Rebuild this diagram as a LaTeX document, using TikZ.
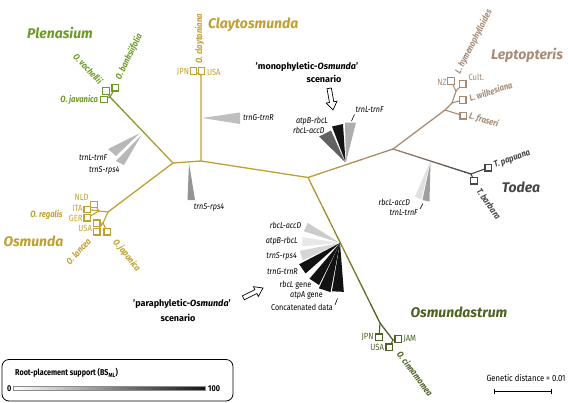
\documentclass[tikz,border=0pt]{standalone}
\usepackage{fontspec}
\setmainfont{Fira Sans}
\newfontfamily\condf{Fira Sans}[FakeStretch=0.85]
\usetikzlibrary{calc}
\definecolor{cgold}{HTML}{BFA030}
\definecolor{cgreen}{HTML}{6E9A28}
\definecolor{colive}{HTML}{4E6226}
\definecolor{ctan}{HTML}{A68B76}
\definecolor{ctodea}{HTML}{464646}
\newcommand{\gradline}[4]{%
  \foreach \gi in {0,...,23}{%
    \pgfmathsetmacro{\gta}{\gi/24}%
    \pgfmathsetmacro{\gtb}{(\gi+1)/24}%
    \pgfmathtruncatemacro{\gpc}{100-(\gi+0.5)*100/24}%
    \draw[treeline,draw=#3!\gpc!#4] ($(#1)!\gta!(#2)$) -- ($(#1)!\gtb!(#2)$);
  }}
\newcommand{\hollowarrow}[3]{%
  \begin{scope}[shift={(#1,#2)},rotate=#3]
    \draw[fill=white,line width=0.7pt,line join=miter] (0,0) -- (-8,-5.5) -- (-8,-2.2) -- (-22,-2.2) -- (-22,2.2) -- (-8,2.2) -- (-8,5.5) -- cycle;
  \end{scope}}
\tikzset{
  treeline/.style={line width=1.3pt,line cap=round,line join=round},
  twig/.style={line width=1.1pt,line cap=round},
  sqbox/.style={draw=#1,fill=white,minimum size=6.5pt,inner sep=0pt,line width=1.2pt},
  cladelab/.style={font=\fontsize{14}{16}\selectfont\bfseries\itshape,inner sep=0pt},
  splab/.style={font=\condf\fontsize{9}{10}\selectfont\bfseries\itshape,inner sep=0.3pt},
  loclab/.style={font=\condf\fontsize{9}{10}\selectfont,inner sep=0.3pt},
  genelab/.style={font=\condf\fontsize{8.5}{9}\selectfont,inner sep=0.3pt},
  scenlab/.style={font=\fontsize{9}{11}\selectfont\bfseries,align=center,inner sep=0pt},
}
\begin{document}
\begin{tikzpicture}[x=1pt,y=-1pt]
\useasboundingbox (0,0) rectangle (568,402);
% ---------- tree coordinates
\coordinate (A) at (173,163);
\coordinate (B) at (201,161);
\coordinate (C) at (308,177.5);
\coordinate (D) at (393,149);
\coordinate (P1) at (110,97);
\coordinate (O1) at (108,212);
\coordinate (O2) at (99,211);
\coordinate (O3) at (103,223);
\coordinate (K1) at (201,75);
\coordinate (L1) at (445,110);
\coordinate (L2) at (452,103);
\coordinate (L3) at (456,91);
\coordinate (T1) at (471,174);
\coordinate (M1) at (380,323);
\coordinate (M2) at (393,340);
% ---------- wedges
\fill[black!25] (202,118) -- (240,112.5) -- (240,124) -- cycle;
\node[genelab,anchor=west] (wg1) at (242.5,118) {\textit{trnG-trnR}};
\fill[black!42] (189,163) -- (187.5,200) -- (195,200) -- cycle;
\node[genelab] (ws1) at (209,207) {\textit{trnS-rps4}};
\fill[black!28] (140,133) -- (108,149) -- (116,156) -- cycle;
\fill[black!28] (141.5,135) -- (116,161) -- (124,165) -- cycle;
\node[genelab,anchor=east] (wl1) at (108,157.5) {\textit{trnL-trnF}};
\node[genelab,anchor=east] (wl2) at (120,170) {\textit{trnS-rps4}};
% monophyletic
\fill[black!62] (345,162) -- (319,136.5) -- (331,130.5) -- cycle;
\fill[black!92] (345.5,162) -- (332,126.5) -- (343,124) -- cycle;
\fill[black!32] (346,162) -- (345,122.5) -- (356,122.5) -- cycle;
\node[genelab,anchor=east] (m1) at (328.5,121.7) {\textit{atpB-rbcL}};
\node[genelab,anchor=east] (m2) at (325,130) {\textit{rbcL-accD}};
\node[genelab,anchor=west] (m3) at (355,110) {\textit{trnL-trnF}};
\coordinate (m3a) at (351.5,121);
\coordinate (m3b) at (354.5,114.5);
\draw[line width=0.6pt] (m3a) -- (m3b);
\node[scenlab] (mono) at (307,66.5) {'monophyletic-\textit{Osmunda}'};
\node[scenlab] (monos) at (324,79) {scenario};
\hollowarrow{333}{110}{-80}
% Todea wedges
\fill[black!12] (430,162) -- (415,196.5) -- (421.5,199.5) -- cycle;
\fill[black!38] (430.5,162) -- (422.5,200) -- (429.5,201.5) -- cycle;
\node[genelab,anchor=east] (t1) at (410.5,202) {\textit{rbcL-accD}};
\node[genelab,anchor=east] (t2) at (418.5,213) {\textit{trnL-trnF}};
\coordinate (t2a) at (420,209);
\coordinate (t2b) at (423,203.5);
\draw[line width=0.6pt] (t2a) -- (t2b);
% paraphyletic fan
\coordinate (PA) at (340,243);
\foreach \ang/\len/\col in {205/38/black!20, 182/38/black!9, 162/41/black!16, 145.5/46/black!93, 123.5/47/black!93, 108/50/black!93, 92.5/49/black!93}{
  \fill[\col] (PA) -- ($(PA)+(\ang-7:\len)$) -- ($(PA)+(\ang+7:\len)$) -- cycle;
}
\node[genelab,anchor=east] (p1) at (301.7,225) {\textit{rbcL-accD}};
\node[genelab,anchor=east] (p2) at (298.3,241.7) {\textit{atpB-rbcL}};
\node[genelab,anchor=east] (p3) at (297.3,256.7) {\textit{trnS-rps4}};
\node[genelab,anchor=east] (p4) at (298.3,271.7) {\textit{trnG-trnR}};
\node[genelab,anchor=east] (p5) at (311.7,285.5) {\textit{rbcL} gene};
\node[genelab,anchor=east] (p6) at (323.3,295.5) {\textit{atpA} gene};
\node[genelab,anchor=east] (p7) at (333.3,307) {Concatenated data};
\coordinate (p7a) at (335,305);
\coordinate (p7b) at (337.5,298.5);
\draw[line width=0.6pt] (p7a) -- (p7b);
\node[scenlab] (para) at (182,304) {'paraphyletic-\textit{Osmunda}'};
\node[scenlab] (paras) at (178,318) {scenario};
\hollowarrow{263}{288}{26.6}
% ---------- squares
\node[sqbox=cgreen] (jav) at (104,99.5) {};
\node[sqbox=cgreen] (vach) at (106,91) {};
\node[sqbox=cgreen] (bank) at (115.3,87.7) {};
\node[sqbox=cgold] (cjpn) at (193.5,71) {};
\node[sqbox=cgold] (cusa) at (201.5,71) {};
\node[sqbox=cgold] (onld) at (94,204.5) {};
\node[sqbox=cgold] (oita) at (87.3,209.5) {};
\node[sqbox=cgold] (oger) at (87.3,217.7) {};
\node[sqbox=cgold] (ousa) at (96.7,223.3) {};
\node[sqbox=cgold] (olan) at (96.7,231.7) {};
\node[sqbox=cgold] (ojap) at (107.3,231.7) {};
\node[sqbox=ctan] (lnz) at (451,81) {};
\node[sqbox=ctan] (lcult) at (462.7,84) {};
\node[sqbox=ctan] (lwil) at (462.7,100) {};
\node[sqbox=ctan] (lfra) at (463.3,115.7) {};
\node[sqbox=ctodea] (tpap) at (488.3,167.7) {};
\node[sqbox=ctodea] (tbar) at (474,180.7) {};
\node[sqbox=colive] (mjpn) at (379,337.3) {};
\node[sqbox=colive] (mjam) at (398.3,339) {};
\node[sqbox=colive] (musa) at (389.3,347.3) {};
% ---------- branches
\gradline{A}{P1}{cgold}{cgreen}
\gradline{C}{D}{cgold}{ctan}
\gradline{C}{M1}{cgold}{colive}
\gradline{D}{T1}{ctan}{ctodea}
\draw[treeline,cgold] (O1) -- (A) -- (B) -- (K1);
\draw[treeline,cgold] (B) -- (C);
\draw[treeline,ctan] (D) -- (L1);
\draw[twig,cgreen] (P1) -- (jav); \draw[twig,cgreen] (P1) -- (vach); \draw[twig,cgreen] (P1) -- (bank);
\draw[twig,cgold] (K1) -- (cjpn); \draw[twig,cgold] (K1) -- (cusa);
\draw[twig,cgold] (O1) -- (O2); \draw[twig,cgold] (O1) -- (O3);
\draw[twig,cgold] (O2) -- (onld); \draw[twig,cgold] (O2) -- (oita); \draw[twig,cgold] (O2) -- (oger);
\draw[twig,cgold] (O3) -- (ousa); \draw[twig,cgold] (O3) -- (olan); \draw[twig,cgold] (O3) -- (ojap);
\draw[twig,ctan] (L1) -- (lfra); \draw[twig,ctan] (L1) -- (L2); \draw[twig,ctan] (L2) -- (lwil);
\draw[twig,ctan] (L2) -- (L3); \draw[twig,ctan] (L3) -- (lnz); \draw[twig,ctan] (L3) -- (lcult);
\draw[twig,ctodea] (T1) -- (tpap); \draw[twig,ctodea] (T1) -- (tbar);
\draw[twig,colive] (M1) -- (mjpn); \draw[treeline,colive] (M1) -- (M2);
\draw[twig,colive] (M2) -- (mjam); \draw[twig,colive] (M2) -- (musa);
% ---------- clade labels
\node[cladelab,cgreen] (nplen) at (60,33) {Plenasium};
\node[cladelab,cgold,anchor=west] (nclay) at (208,25) {Claytosmunda};
\node[cladelab,cgold] (nosm) at (33.5,241) {Osmunda};
\node[cladelab,ctan] (nlep) at (527,55) {Leptopteris};
\node[cladelab,ctodea] (ntod) at (521,187) {Todea};
\node[cladelab,colive] (nost) at (459,312) {Osmundastrum};
% ---------- species / locality labels
\node[splab,cgreen,anchor=east] at (98.5,100) {O. javanica};
\node[splab,cgreen,anchor=east,rotate=-46] at (101.5,82.5) {O. vachellii};
\node[splab,cgreen,anchor=west,rotate=64] at (118,79.5) {O. banksiifolia};
\node[splab,cgold,anchor=west,rotate=90] at (199.5,64) {O. claytoniana};
\node[loclab,cgold,anchor=east] at (189.5,72) {JPN};
\node[loclab,cgold,anchor=west] at (206.5,72) {USA};
\node[loclab,cgold,anchor=east] at (89,197.5) {NLD};
\node[loclab,cgold,anchor=east] at (83,208.5) {ITA};
\node[loclab,cgold,anchor=east] at (83,218) {GER};
\node[loclab,cgold,anchor=east] at (92.5,228) {USA};
\node[splab,cgold] at (46.5,215) {O. regalis};
\node[splab,cgold,anchor=east,rotate=47] at (89.5,239.5) {O. lancea};
\node[splab,cgold,anchor=west,rotate=-52] at (114.5,240) {O. japonica};
\node[loclab,ctan,anchor=east] at (447,82) {NZ};
\node[loclab,ctan,anchor=west] at (468,77) {Cult.};
\node[splab,ctan,anchor=west,rotate=63] at (457.5,73.5) {L. hymenophylloides};
\node[splab,ctan,anchor=west,rotate=18] at (469,98.5) {L. wilkesiana};
\node[splab,ctan,anchor=west,rotate=-17] at (469,116) {L. fraseri};
\node[splab,ctodea,anchor=west,rotate=20] at (494,166) {T. papuana};
\node[splab,ctodea,anchor=west,rotate=-55] at (478.5,189) {T. barbara};
\node[loclab,colive,anchor=east] at (374,337.5) {JPN};
\node[loclab,colive,anchor=west] at (403,339) {JAM};
\node[loclab,colive,anchor=east] at (384.5,347.5) {USA};
\node[splab,colive,anchor=west,rotate=-53] at (399,352) {O. cinnamomea};
% ---------- legend
\draw[line width=0.8pt,rounded corners=7pt] (2,359.5) rectangle (233,401);
\node[font=\condf\fontsize{8.5}{10}\selectfont\bfseries,anchor=west,inner sep=0pt] (legt) at (15,373) {Root-placement support (BS\textsubscript{ML})};
\shade[left color=white,right color=black!92] (13.3,386) rectangle (205,390.5);
\draw[black!45,line width=0.4pt] (13.3,386) rectangle (205,390.5);
\node[font=\condf\fontsize{8.5}{10}\selectfont\bfseries,anchor=east,inner sep=0.5pt] (leg0) at (12,388.3) {0};
\node[font=\condf\fontsize{8.5}{10}\selectfont\bfseries,anchor=west,inner sep=0.5pt] (leg100) at (207.5,388.3) {100};
% ---------- scale bar
\node[font=\condf\fontsize{9}{10}\selectfont,inner sep=0pt] (scl) at (526,378.5) {Genetic distance = 0.01};
\coordinate (sb1) at (494,391);
\coordinate (sb2) at (551.7,391);
\draw[line width=0.7pt] (sb1) -- (sb2);
\draw[line width=0.7pt] ($(sb1)+(0,-2.5)$) -- ($(sb1)+(0,2.5)$);
\draw[line width=0.7pt] ($(sb2)+(0,-2.5)$) -- ($(sb2)+(0,2.5)$);
\end{tikzpicture}
\end{document}
